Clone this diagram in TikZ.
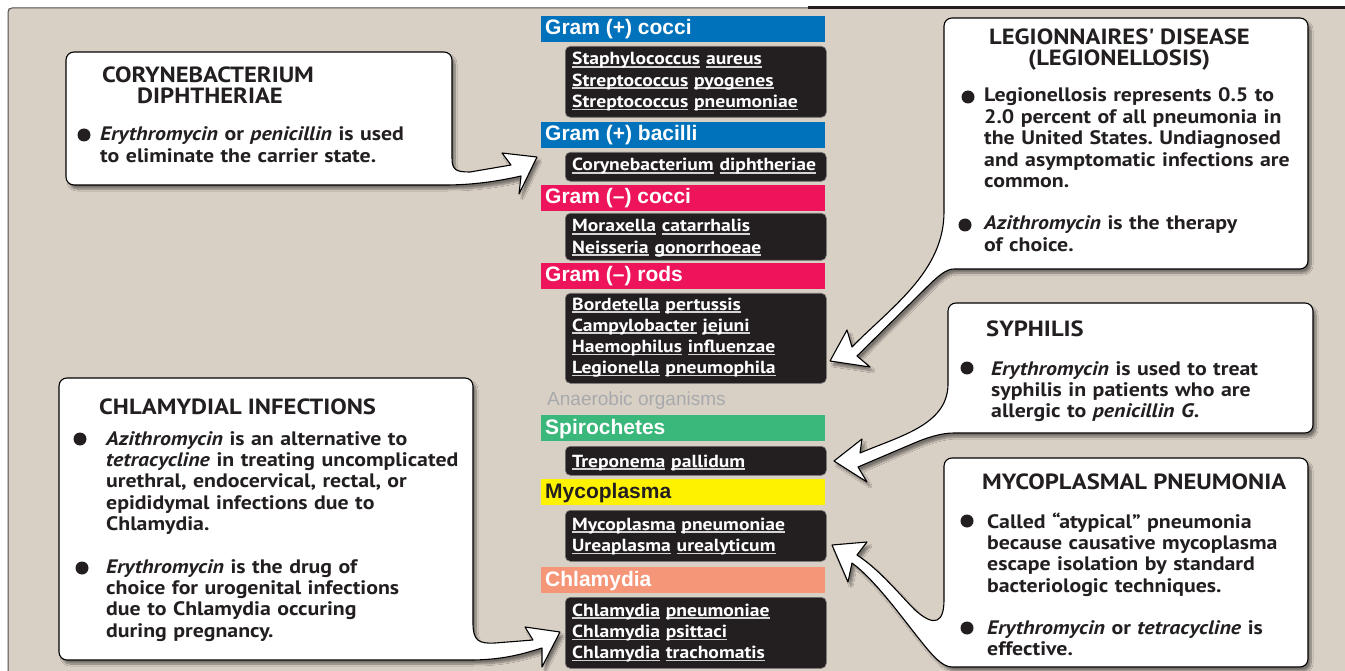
\documentclass[tikz,border=0pt]{standalone}
\usepackage{fontspec}
\setmainfont{PT Sans}[FakeStretch=1.12]
\newfontfamily\helv{Liberation Sans}
\usetikzlibrary{shadows.blur}
\frenchspacing
\definecolor{beige}{HTML}{D9D0C5}
\definecolor{gblue}{HTML}{0072BC}
\definecolor{gred}{HTML}{ED145B}
\definecolor{ggreen}{HTML}{3AB77A}
\definecolor{gyellow}{HTML}{FFF200}
\definecolor{gsalmon}{HTML}{F69679}
\definecolor{bxfill}{HTML}{231F20}
\definecolor{anagray}{HTML}{A7A9AC}
\definecolor{ulgray}{HTML}{D4D4D4}
\definecolor{ink}{HTML}{231F20}
\newcommand\ulw[1]{\leavevmode\setbox0\hbox{#1}\rlap{\textcolor{ulgray}{\rule[-2.6pt]{\wd0}{1.4pt}}}\box0\relax}
\begin{document}
\begin{tikzpicture}[x=1pt,y=-1pt,
  callout/.style={fill=white, draw=black, line width=1.1pt, line join=round,
    blur shadow={shadow xshift=3pt, shadow yshift=-4pt, shadow blur steps=10, shadow opacity=45}},
  hdr/.style={anchor=north west, minimum width=284pt, minimum height=26pt, inner sep=0pt},
  hdrtxt/.style={anchor=base west, inner sep=0pt, font=\helv\bfseries\fontsize{21}{24}\selectfont, text=white},
  bx/.style={anchor=north west, fill=bxfill, draw=black!55, line width=0.6pt, rounded corners=5pt, inner sep=0pt, minimum width=261pt},
  bxtxt/.style={anchor=base west, inner sep=0pt, text width=255pt, align=left, text=white, font=\bfseries\fontsize{17.5}{21.3}\selectfont},
  body/.style={anchor=base west, inner sep=0pt, text width=420pt, align=left, text=ink, font=\bfseries\fontsize{19.5}{21.4}\selectfont},
  ttl/.style={anchor=base west, inner sep=0pt, text=ink, font=\bfseries\fontsize{22}{21}\selectfont},
  bul/.style={circle, fill=ink, inner sep=0pt, minimum size=13pt},
]
\useasboundingbox (0,0) rectangle (1345,671);
\fill[white] (0,0) rectangle (1345,671);
\fill[beige] (8,8) rectangle (1346,672);
\draw[line width=1pt, black!70, rounded corners=4pt] (8,672) -- (8,8) -- (808,8);
\draw[line width=2.2pt, ink] (808,7.6) -- (1345,7.6);

% ---------- callouts ----------
% Corynebacterium
\path[callout] (66,120) [rounded corners=8pt] -- (66,52) -- (452,52) -- (452,150) [sharp corners]
  .. controls (452,170) and (456,172) .. (470,172)
  -- (511,165) -- (502,153) -- (537,157) -- (519,194) -- (521,176)
  .. controls (495,182) and (470,185) .. (445,185)
  [rounded corners=8pt] -- (66,185) -- cycle;
% Legionnaires
\path[callout] (944,100) [rounded corners=8pt] -- (944,18) -- (1308,18) -- (1308,269) -- (962,269) [sharp corners]
  .. controls (946,269) and (938,276) .. (925,289)
  -- (857,356) -- (870,367) -- (830,361) -- (847,330) -- (852,347)
  .. controls (890,308) and (944,272) .. (944,212) -- cycle;
% Syphilis
\path[callout] (948,350) [rounded corners=8pt] -- (948,303) -- (1313,303) -- (1313,433) -- (962,433) [sharp corners]
  .. controls (942,433) and (928,437) .. (912,444)
  -- (858,467) -- (867,482) -- (834,461) -- (862,439) -- (860,453)
  .. controls (900,436) and (947,425) .. (948,385) -- cycle;
% Mycoplasmal
\path[callout] (944,530) [rounded corners=8pt] -- (944,458) -- (1308,458) -- (1308,667) -- (960,667) [sharp corners]
  .. controls (942,667) and (932,655) .. (920,640)
  .. controls (900,615) and (875,580) .. (852,563)
  -- (848,582) -- (832,545) -- (867,542) -- (857,555)
  .. controls (880,570) and (900,595) .. (915,610)
  .. controls (935,628) and (944,622) .. (944,600) -- cycle;
% Chlamydial
\path[callout] (59,500) [rounded corners=8pt] -- (59,378) -- (473,378) -- (473,615) [sharp corners]
  .. controls (473,640) and (478,644) .. (495,643)
  -- (533,640) -- (525,627) -- (560,632) -- (542,667) -- (542,648)
  .. controls (520,655) and (500,660) .. (470,660)
  [rounded corners=8pt] -- (59,660) -- cycle;

% ---------- callout texts ----------
\node[ttl] (cyt1) at (102,83) {CORYNEBACTERIUM};
\node[ttl] (cyt2) at (137,104) {DIPHTHERIAE};
\node[bul] (cyb) at (84,135) {};
\node[body] (cyx) at (100,141) {\textit{Erythromycin} or \textit{penicillin} is used\\to eliminate the carrier state.};

\node[ttl] (lgt1) at (989,45) {LEGIONNAIRES\textquotesingle\ DISEASE};
\node[ttl] (lgt2) at (1028,66) {(LEGIONELLOSIS)};
\node[bul] (lgb1) at (968,97) {};
\node[body] (lgx1) at (984,102) {Legionellosis represents 0.5 to\\2.0 percent of all pneumonia in\\the United States. Undiagnosed\\and asymptomatic infections are\\common.};
\node[bul] (lgb2) at (965,225) {};
\node[body] (lgx2) at (984,230) {\textit{Azithromycin} is the therapy\\of choice.};

\node[ttl] (syt) at (986,337) {SYPHILIS};
\node[bul] (syb) at (967,368) {};
\node[body] (syx) at (991,375) {\textit{Erythromycin} is used to treat\\syphilis in patients who are\\allergic to \textit{penicillin G}.};

\node[ttl] (myt) at (982,489) {MYCOPLASMAL PNEUMONIA};
\node[bul] (myb1) at (967,521) {};
\node[body] (myx1) at (987,528) {Called “atypical” pneumonia\\because causative mycoplasma\\escape isolation by standard\\bacteriologic techniques.};
\node[bul] (myb2) at (967,628) {};
\node[body] (myx2) at (987,634) {\textit{Erythromycin} or \textit{tetracycline} is\\effective.};

\node[ttl] (cht) at (99,414) {CHLAMYDIAL INFECTIONS};
\node[bul] (chb1) at (80,439) {};
\node[body] (chx1) at (106,445) {\textit{Azithromycin} is an alternative to\\\textit{tetracycline} in treating uncomplicated\\urethral, endocervical, rectal, or\\epididymal infections due to\\Chlamydia.};
\node[bul] (chb2) at (82,568) {};
\node[body] (chx2) at (106,573) {\textit{Erythromycin} is the drug of\\choice for urogenital infections\\due to Chlamydia occuring\\during pregnancy.};

% ---------- center column ----------
\node[hdr, fill=gblue] (h1) at (541,16) {};
\node[hdrtxt] (h1t) at (545,35) {Gram (+) cocci};
\node[bx, minimum height=71pt] (b1) at (565,46) {};
\node[bxtxt] (b1t) at (572,65) {\ulw{Staphylococcus} \ulw{aureus}\\\ulw{Streptococcus} \ulw{pyogenes}\\\ulw{Streptococcus} \ulw{pneumoniae}};

\node[hdr, fill=gblue] (h2) at (541,122) {};
\node[hdrtxt] (h2t) at (545,141) {Gram (+) bacilli};
\node[bx, minimum height=29pt] (b2) at (565,152) {};
\node[bxtxt] (b2t) at (572,171) {\ulw{Corynebacterium} \ulw{diphtheriae}};

\node[hdr, fill=gred] (h3) at (541,185) {};
\node[hdrtxt] (h3t) at (545,204) {Gram (–) cocci};
\node[bx, minimum height=47pt] (b3) at (565,213) {};
\node[bxtxt] (b3t) at (572,232) {\ulw{Moraxella} \ulw{catarrhalis}\\\ulw{Neisseria} \ulw{gonorrhoeae}};

\node[hdr, fill=gred] (h4) at (541,263) {};
\node[hdrtxt] (h4t) at (545,282) {Gram (–) rods};
\node[bx, minimum height=90pt] (b4) at (565,293) {};
\node[bxtxt] (b4t) at (572,310) {\ulw{Bordetella} \ulw{pertussis}\\\ulw{Campylobacter} \ulw{jejuni}\\\ulw{Haemophilus} \ulw{influenzae}\\\ulw{Legionella} \ulw{pneumophila}};

\node[anchor=base west, inner sep=0pt, text=anagray, font=\helv\fontsize{19}{20}\selectfont] (ana) at (547,405) {Anaerobic organisms};

\node[hdr, fill=ggreen] (h5) at (541,415) {};
\node[hdrtxt] (h5t) at (545,434) {Spirochetes};
\node[bx, minimum height=29pt] (b5) at (565,446) {};
\node[bxtxt] (b5t) at (572,467) {\ulw{Treponema} \ulw{pallidum}};

\node[hdr, fill=gyellow] (h6) at (541,479) {};
\node[hdrtxt, text=ink] (h6t) at (545,498) {Mycoplasma};
\node[bx, minimum height=51pt] (b6) at (565,510) {};
\node[bxtxt] (b6t) at (572,530) {\ulw{Mycoplasma} \ulw{pneumoniae}\\\ulw{Ureaplasma} \ulw{urealyticum}};

\node[hdr, fill=gsalmon] (h7) at (541,567) {};
\node[hdrtxt] (h7t) at (545,586) {Chlamydia};
\node[bx, minimum height=71pt] (b7) at (565,597) {};
\node[bxtxt] (b7t) at (572,616) {\ulw{Chlamydia} \ulw{pneumoniae}\\\ulw{Chlamydia} \ulw{psittaci}\\\ulw{Chlamydia} \ulw{trachomatis}};
\end{tikzpicture}
\end{document}
